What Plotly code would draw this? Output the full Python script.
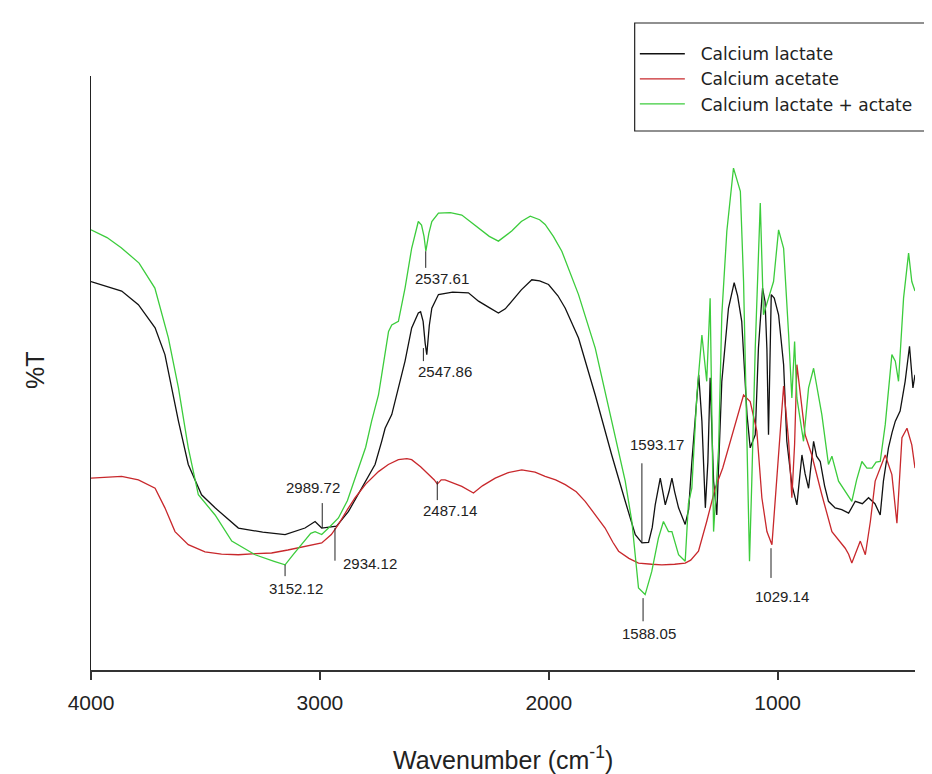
import plotly.graph_objects as go

# ---------------- data ----------------
lactate_wn = [4000, 3930, 3866, 3793, 3720, 3677, 3648, 3618, 3575, 3517, 3458, 3356, 3250, 3152, 3065,
              3021, 2992, 2960, 2927, 2875, 2802, 2759, 2730, 2715, 2686, 2657, 2628, 2599, 2570, 2560,
              2549, 2540, 2533, 2522, 2511, 2482, 2420, 2351, 2307, 2260, 2220, 2190, 2162, 2120, 2074,
              2040, 2001, 1960, 1928, 1870, 1797, 1725, 1666, 1622, 1593, 1564, 1548, 1535, 1513, 1500,
              1491, 1475, 1462, 1450, 1433, 1404, 1389, 1375, 1360, 1345, 1331, 1316, 1305, 1295, 1280,
              1266, 1244, 1215, 1190, 1175, 1157, 1134, 1120, 1098, 1084, 1066, 1055, 1047, 1040, 1034,
              1028, 1015, 996, 974, 960, 938, 916, 894, 880, 865, 843, 830, 814, 795, 778, 749, 720, 690,
              661, 630, 603, 575, 552, 538, 516, 500, 486, 465, 443, 424, 409, 400]
lactate_t = [65.4, 64.6, 63.8, 61.5, 57.6, 53.1, 47.5, 41.9, 34.6, 29.5, 27.3, 23.9, 23.2, 22.8, 23.9,
             25.0, 23.9, 24.0, 24.2, 26.7, 31.8, 34.6, 38.5, 40.7, 43.0, 47.5, 52.0, 57.6, 60.1, 60.3,
             58.7, 55.0, 53.1, 58.0, 60.9, 63.2, 63.6, 63.5, 62.1, 61.0, 60.1, 60.8, 62.1, 64.0, 65.7,
             65.5, 64.9, 63.0, 60.9, 55.9, 46.3, 36.2, 28.4, 22.8, 21.4, 21.5, 24.0, 27.8, 32.3, 29.5,
             27.8, 30.0, 32.3, 30.0, 27.3, 24.5, 27.0, 35.0, 43.0, 49.7, 41.9, 27.3, 35.0, 49.2, 31.8,
             26.1, 48.6, 60.9, 65.2, 63.0, 58.7, 43.0, 37.4, 39.6, 54.2, 64.3, 62.0, 54.0, 39.6, 55.0,
             63.2, 62.6, 59.8, 51.4, 38.5, 31.2, 27.8, 36.2, 33.0, 30.6, 38.5, 36.0, 35.1, 31.0, 28.4,
             27.3, 27.0, 26.4, 28.4, 28.0, 29.0, 28.0, 26.1, 31.8, 37.4, 40.0, 41.9, 43.6, 48.6, 54.5,
             47.5, 49.7]

acetate_wn = [4000, 3930, 3866, 3793, 3720, 3677, 3633, 3575, 3502, 3430, 3356, 3280, 3211, 3140, 3065,
              2992, 2950, 2919, 2880, 2846, 2800, 2774, 2744, 2701, 2657, 2620, 2599, 2560, 2526, 2500,
              2487, 2470, 2453, 2420, 2380, 2329, 2290, 2234, 2180, 2118, 2060, 2016, 1970, 1928, 1880,
              1841, 1800, 1754, 1720, 1695, 1650, 1608, 1550, 1506, 1450, 1404, 1380, 1346, 1310, 1273,
              1240, 1215, 1180, 1149, 1120, 1091, 1069, 1047, 1025, 1004, 990, 974, 952, 938, 926, 916,
              880, 851, 807, 763, 705, 690, 676, 660, 639, 617, 595, 574, 530, 501, 479, 457, 435, 414, 400]
acetate_t = [32.3, 32.4, 32.6, 32.0, 30.6, 27.3, 23.3, 21.1, 19.9, 19.5, 19.4, 19.6, 19.7, 20.2, 20.8,
             21.4, 22.8, 24.5, 27.0, 29.0, 31.3, 32.3, 33.4, 34.6, 35.4, 35.6, 35.4, 34.2, 32.9, 32.0,
             31.3, 32.0, 32.0, 31.5, 30.9, 29.8, 31.0, 32.3, 33.2, 33.7, 33.3, 32.6, 32.0, 31.2, 30.0,
             28.4, 26.2, 23.9, 21.5, 20.0, 18.8, 18.0, 17.8, 17.7, 17.8, 18.0, 18.5, 20.0, 25.0, 30.6,
             34.0, 37.4, 42.5, 46.3, 45.2, 40.2, 29.0, 23.3, 21.1, 31.8, 40.0, 47.8, 38.5, 29.0, 38.0, 51.4,
             39.6, 36.2, 29.5, 23.3, 20.5, 19.5, 18.0, 19.5, 21.7, 19.4, 25.0, 31.8, 36.2, 32.9, 24.7,
             39.1, 40.7, 37.9, 34.0]

mix_wn = [4000, 3930, 3868, 3790, 3721, 3662, 3618, 3575, 3531, 3458, 3385, 3283, 3200, 3152, 3115,
          3080, 3040, 3021, 2992, 2960, 2919, 2880, 2846, 2800, 2774, 2744, 2730, 2715, 2700, 2686,
          2657, 2628, 2599, 2570, 2556, 2545, 2537, 2524, 2511, 2482, 2430, 2380, 2307, 2260, 2220,
          2162, 2120, 2081, 2040, 2016, 1980, 1943, 1870, 1797, 1725, 1666, 1637, 1608, 1579, 1550,
          1521, 1499, 1477, 1462, 1433, 1404, 1390, 1375, 1353, 1331, 1310, 1295, 1280, 1258, 1244,
          1222, 1193, 1163, 1149, 1134, 1123, 1113, 1098, 1076, 1062, 1040, 1018, 996, 974, 952, 938,
          926, 916, 887, 865, 843, 825, 807, 778, 763, 734, 705, 676, 655, 632, 610, 588, 570, 552,
          530, 501, 486, 472, 450, 428, 414, 400]
mix_t = [74.1, 72.8, 71.1, 68.5, 64.3, 55.9, 47.5, 37.4, 29.5, 26.1, 21.7, 19.4, 18.3, 17.7, 19.5,
         21.1, 23.0, 23.3, 22.8, 24.0, 25.6, 28.5, 32.3, 37.5, 41.9, 46.3, 49.7, 53.1, 57.0, 58.1,
         58.7, 64.3, 71.0, 75.5, 74.9, 73.0, 70.5, 73.5, 75.5, 76.9, 77.0, 76.6, 74.4, 73.0, 72.2,
         73.9, 75.5, 76.4, 75.8, 75.0, 73.0, 70.5, 63.2, 54.2, 41.9, 31.8, 25.0, 13.8, 12.7, 16.6,
         22.2, 25.0, 23.3, 23.3, 19.4, 18.3, 28.0, 30.6, 46.3, 56.4, 48.6, 62.6, 23.3, 37.4, 59.8,
         73.9, 84.5, 80.6, 65.4, 37.4, 18.3, 31.8, 54.2, 78.6, 59.8, 62.6, 65.4, 74.1, 71.0, 56.4, 45.8,
         55.3, 45.8, 38.5, 47.5, 50.8, 47.0, 43.0, 34.6, 36.0, 31.8, 30.0, 28.4, 32.0, 35.1, 34.0, 34.0,
         35.0, 35.1, 41.3, 53.1, 52.0, 48.6, 62.6, 70.2, 65.4, 63.8]

series_names = ["Calcium lactate", "Calcium acetate", "Calcium lactate + actate"]
x_ticks = [4000, 3000, 2000, 1000]

# peak labels: wavenumber, label text, marker line from/to (%T), text level (%T)
peak_wn = [3152.12, 2989.72, 2934.12, 2537.61, 2547.86, 2487.14, 1593.17, 1588.05, 1029.14]
peak_text = ["3152.12", "2989.72", "2934.12", "2537.61", "2547.86", "2487.14", "1593.17", "1588.05", "1029.14"]
peak_line_top = [17.7, 28.1, 23.9, 70.5, 54.2, 31.8, 34.8, 12.1, 20.5]
peak_line_bottom = [15.8, 23.9, 18.4, 67.7, 52.0, 28.6, 21.4, 8.2, 15.5]
peak_text_level = [13.8, 30.8, 18.0, 65.9, 50.3, 26.8, 37.9, 6.1, 12.4]

# ---------------- styles ----------------
FONT = "Liberation Sans, Arial, sans-serif"
LEGEND_FONT = "DejaVu Sans, Verdana, sans-serif"
colors = ["#111111", "#c8282c", "#3ccc3c"]
label_xshift = [11, -9, 35, 16, 22, 13, 15, 6, 11]
NBSP = "\u00a0"

fig = go.Figure()
for wn, t, name, c in zip([lactate_wn, acetate_wn, mix_wn], [lactate_t, acetate_t, mix_t],
                          series_names, colors):
    fig.add_trace(go.Scatter(x=wn, y=t, mode="lines", name=NBSP * 2 + name,
                             line=dict(color=c, width=1.3)))

for wn, txt, y0, y1, yt, dx in zip(peak_wn, peak_text, peak_line_top, peak_line_bottom,
                                   peak_text_level, label_xshift):
    fig.add_shape(type="line", x0=wn, x1=wn, y0=y0, y1=y1, xref="x", yref="y",
                  line=dict(color="#222222", width=1))
    fig.add_annotation(x=wn, y=yt, text=txt, showarrow=False, xshift=dx,
                       xanchor="center", yanchor="middle",
                       font=dict(family=FONT, size=15, color="#222222"))

fig.add_annotation(xref="paper", yref="paper", x=0.5, y=-0.148, text="Wavenumber (cm<sup>-1</sup>)",
                   showarrow=False, xanchor="center", yanchor="middle",
                   font=dict(family=FONT, size=25, color="#222222"))
fig.add_annotation(xref="paper", yref="paper", x=-0.068, y=0.505, text="%T", textangle=-90,
                   showarrow=False, xanchor="center", yanchor="middle",
                   font=dict(family=FONT, size=25, color="#222222"))

# legend frame (runs off the right edge as in the reference)
fig.add_shape(type="rect", xref="paper", yref="paper", x0=0.6598, x1=1.05, y0=0.9074, y1=1.0892,
              line=dict(color="#222222", width=1.2), fillcolor="white", layer="below")

fig.update_layout(
    width=932, height=774, autosize=False,
    margin=dict(l=83, r=25, t=68, b=112),
    paper_bgcolor="white", plot_bgcolor="white",
    font=dict(family=FONT, color="#222222"),
    showlegend=True,
    legend=dict(x=0.660, y=1.067, xanchor="left", yanchor="top",
                borderwidth=0, bgcolor="rgba(0,0,0,0)",
                font=dict(family=LEGEND_FONT, size=17, color="#222222"),
                tracegroupgap=0, itemwidth=45),
    xaxis=dict(range=[4000, 400], showline=True, linecolor="#333333", linewidth=1.6,
               ticks="outside", ticklen=8, tickwidth=1.5, tickcolor="#333333",
               tickvals=x_ticks, ticktext=[str(v) for v in x_ticks],
               tickfont=dict(family=FONT, size=21, color="#222222"),
               ticklabelstandoff=5,
               showgrid=False, zeroline=False),
    yaxis=dict(range=[0, 100], showline=True, linecolor="#222222", linewidth=1,
               showticklabels=False, ticks="", showgrid=False, zeroline=False),
)

fig.write_html("out.html")
